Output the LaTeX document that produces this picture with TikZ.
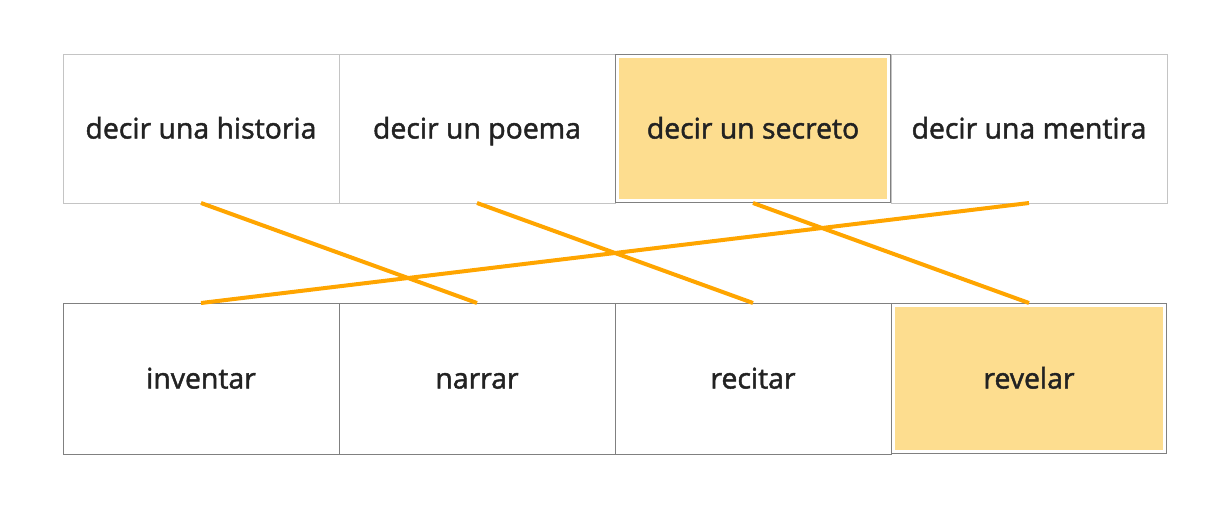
\documentclass[tikz,border=0pt]{standalone}
\usepackage{fontspec}
\setmainfont{Open Sans}[FakeBold=1.6]
\usetikzlibrary{positioning}
\definecolor{matchorange}{RGB}{255,165,0}
\definecolor{matchfill}{RGB}{253,221,143}
\definecolor{matchtop}{RGB}{196,196,196}
\definecolor{matchlow}{RGB}{128,128,128}
\definecolor{matchtext}{RGB}{34,34,34}

\begin{document}
\begin{tikzpicture}[x=.75pt,y=-.75pt,font=\fontsize{21.3}{24}\selectfont,text=matchtext,
 card/.style={draw=matchtop,line width=.75pt,minimum width=207pt,minimum height=111.75pt,
 outer sep=0pt,inner sep=0pt,text height=15pt,text depth=0pt},
 low/.style={card,draw=matchlow,minimum height=113.25pt},
 hit/.style={fill=matchfill,draw=white,line width=2.25pt,outer sep=1.875pt,
 minimum width=203.25pt,preaction={draw=matchlow,line width=3.75pt}},
 link/.style={draw=matchorange,line width=3pt}]
\useasboundingbox (0,0) rectangle (1230,511);

% top row
\node[card] (historia) at (201,128.5) {decir una historia};
\node[card,right=0pt of historia] (poema) {decir un poema};
\node[card,hit,minimum height=108pt,right=0pt of poema] (secreto) {decir un secreto};
\node[card,right=0pt of secreto] (mentira) {decir una mentira};

% bottom row
\node[low] (inventar) at (201,378.5) {inventar};
\node[low,right=0pt of inventar] (narrar) {narrar};
\node[low,right=0pt of narrar] (recitar) {recitar};
\node[low,hit,minimum height=109.5pt,right=0pt of recitar] (revelar) {revelar};

\draw[link] (historia.south)--(narrar.north);
\draw[link] (poema.south)--(recitar.north);
\draw[link] (secreto.south)--(revelar.north);
\draw[link] (mentira.south)--(inventar.north);
\end{tikzpicture}
\end{document}
